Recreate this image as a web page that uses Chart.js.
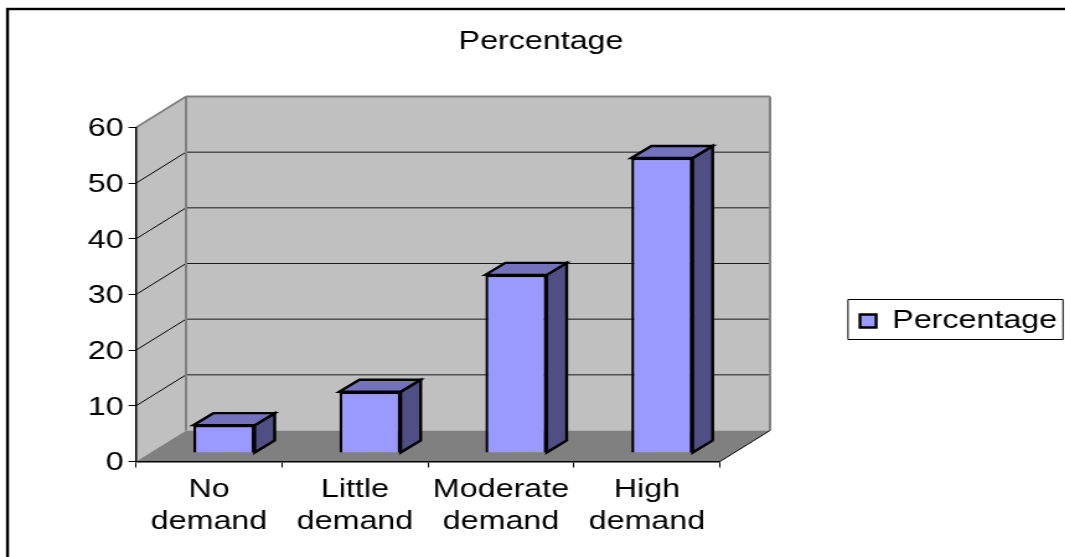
<!DOCTYPE html>
<html>
<head>
<meta charset="utf-8">
<title>Percentage</title>
<script src="https://cdn.jsdelivr.net/npm/chart.js@4/dist/chart.umd.min.js"></script>
<style>
    html, body { margin: 0; padding: 0; background: #fff; overflow: hidden; }
    /* text and strokes are all a bit wider than tall */
    #chart { position: absolute; left: 0; top: 0; transform: scaleX(1.24); transform-origin: 0 0; }
</style>
</head>
<body>
<canvas id="chart" width="859" height="557"></canvas>
<script>
const categories = [['No', 'demand'], ['Little', 'demand'], ['Moderate', 'demand'], ['High', 'demand']];
const percentages = [5, 11, 32, 53];
const yTicks = [0, 10, 20, 30, 40, 50, 60];
const seriesName = 'Percentage';

const font = { family: '"Liberation Sans", Arial, sans-serif', size: 26 };

// canvas units per screen pixel across, the canvas is stretched by 1.24
const sx = v => v / 1.24;

// Fake 3D box
const wallX = sx(50), wallY = 31;
const barShiftX = sx(15), barShiftY = -8.5;
const barDepthX = sx(20), barDepthY = 12;

function poly(ctx, pts, fill, stroke, width) {
    ctx.beginPath();
    pts.forEach((p, i) => i ? ctx.lineTo(p[0], p[1]) : ctx.moveTo(p[0], p[1]));
    ctx.closePath();
    if (fill) { ctx.fillStyle = fill; ctx.fill(); }
    if (stroke) { ctx.strokeStyle = stroke; ctx.lineWidth = width; ctx.lineJoin = 'miter'; ctx.stroke(); }
}

function line(ctx, x1, y1, x2, y2, color, width) {
    ctx.beginPath();
    ctx.moveTo(x1, y1);
    ctx.lineTo(x2, y2);
    ctx.strokeStyle = color;
    ctx.lineWidth = width;
    ctx.stroke();
}

const box3d = {
    id: 'box3d',
    afterLayout(chart) {
        // title is centred further right than the canvas middle, legend sits in the right margin
        chart.titleBlock.left = 0;
        chart.titleBlock.right = sx(1082);
        const legend = chart.legend;
        legend.left = sx(860) - 10;
        legend.right = sx(1063);
        legend.top = 298;
        legend.bottom = 340;
    },
    beforeDraw(chart) {
        const { ctx, chartArea: a, scales } = chart;
        ctx.save();
        ctx.fillStyle = '#fff';
        ctx.fillRect(0, 0, chart.width, chart.height);

        // outer frame, runs off the right and bottom edges
        ctx.strokeStyle = '#000';
        ctx.lineWidth = 2.4;
        ctx.strokeRect(sx(7.5), 9, chart.width + 20, chart.height + 20);

        const l = a.left, r = a.right, t = a.top, b = a.bottom;
        // side wall, back wall, floor
        poly(ctx, [[l, b], [l + wallX, b - wallY], [l + wallX, t - wallY], [l, t]], '#c0c0c0', null);
        poly(ctx, [[l + wallX, t - wallY], [r + wallX, t - wallY], [r + wallX, b - wallY], [l + wallX, b - wallY]], '#c0c0c0', null);
        poly(ctx, [[l, b], [l + wallX, b - wallY], [r + wallX, b - wallY], [r, b]], '#808080', null);

        // gridlines wrap from the side wall on to the back wall
        scales.y.ticks.forEach(tick => {
            if (tick.value === 0 || tick.value === 60) return;
            const y = scales.y.getPixelForValue(tick.value);
            line(ctx, l, y, l + wallX, y - wallY, '#000', 1);
            line(ctx, l + wallX, y - wallY, r + wallX, y - wallY, '#1a1a1a', 1);
        });

        // grey edges of the walls
        line(ctx, l, t, l + wallX, t - wallY, '#808080', 1.6);
        line(ctx, l + wallX, t - wallY, r + wallX, t - wallY, '#808080', 2);
        line(ctx, l + wallX, t - wallY, l + wallX, b - wallY, '#808080', 2);
        line(ctx, r + wallX, t - wallY, r + wallX, b - wallY, '#808080', 2);
        line(ctx, r, b, r + wallX, b - wallY, '#000', 1);

        // legend frame goes under the swatch and label
        poly(ctx, [[sx(848), 299.5], [sx(1063), 299.5], [sx(1063), 339.5], [sx(848), 339.5]], '#fff', '#000', 1);
        ctx.restore();
    },
    beforeDatasetsDraw(chart) {
        // bars stand a little way back from the front edge of the floor
        chart.ctx.save();
        chart.ctx.translate(barShiftX, barShiftY);
    },
    afterDatasetsDraw(chart) {
        const ctx = chart.ctx;
        chart.getDatasetMeta(0).data.forEach(bar => {
            const x0 = bar.x - bar.width / 2, x1 = bar.x + bar.width / 2;
            const top = bar.y, base = bar.base;
            poly(ctx, [[x1, top], [x1 + barDepthX, top - barDepthY], [x1 + barDepthX, base - barDepthY], [x1, base]], '#4f4f85', '#000', 2.4);
            poly(ctx, [[x0, top], [x0 + barDepthX, top - barDepthY], [x1 + barDepthX, top - barDepthY], [x1, top]], '#7373bd', '#000', 2.4);
        });
        ctx.restore();
    }
};

new Chart(document.getElementById('chart'), {
    type: 'bar',
    data: {
        labels: categories,
        datasets: [{
            label: seriesName,
            data: percentages,
            backgroundColor: '#9999ff',
            borderColor: '#000',
            borderWidth: 2.4,
            barPercentage: 0.42,
            categoryPercentage: 1
        }]
    },
    options: {
        responsive: false,
        animation: false,
        layout: { padding: { top: 26, right: 859 - sx(720), bottom: 0, left: 0 } },
        scales: {
            x: {
                afterFit(scale) { scale.height = 95.5; },
                grid: { drawOnChartArea: false, color: '#000', tickLength: 6, offset: true },
                border: { color: '#000', width: 1.5 },
                ticks: { color: '#000', font: { ...font, lineHeight: 1.23 }, padding: 6, maxRotation: 0, autoSkip: false }
            },
            y: {
                min: 0,
                max: 60,
                afterFit(scale) { scale.width = sx(136); },
                afterBuildTicks(scale) { scale.ticks = yTicks.map(value => ({ value })); },
                grid: { drawOnChartArea: false, color: '#000', tickLength: 6 },
                border: { color: '#000', width: 1.5 },
                ticks: { color: '#000', font, padding: 4, labelOffset: 1.5 }
            }
        },
        plugins: {
            title: {
                display: true,
                text: seriesName,
                color: '#000',
                font: { ...font, weight: 'normal', lineHeight: 1.2 },
                padding: { top: 0, bottom: 70.3 }
            },
            legend: {
                position: 'chartArea',
                align: 'start',
                labels: { color: '#000', font, boxWidth: 13, boxHeight: 13, padding: 10 }
            },
            tooltip: { enabled: false }
        }
    },
    plugins: [box3d]
});
</script>
</body>
</html>
